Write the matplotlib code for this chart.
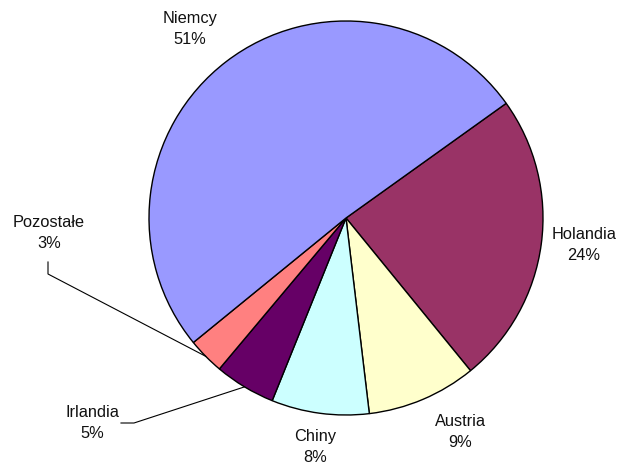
import numpy as np
import matplotlib.pyplot as plt

plt.rcParams['font.family'] = ['Liberation Sans', 'DejaVu Sans']

countries = ['Holandia', 'Austria', 'Chiny', 'Irlandia', 'Pozostałe', 'Niemcy']
shares = [24, 9, 8, 5, 3, 51]
colors = ['#993366', '#FFFFCC', '#CCFFFF', '#660066', '#FF8080', '#9999FF']

# label centres in pixel coordinates (y from top)
label_pos = {'Holandia': (584, 245), 'Austria': (460, 432), 'Chiny': (315, 447),
             'Irlandia': (92, 423), 'Pozostałe': (49, 233), 'Niemcy': (190, 29)}
W, H = 618, 466
cx, cy, r = 346, 218, 197
start = 35.6

fig = plt.figure(figsize=(W / 100, H / 100), dpi=100)
ax = fig.add_axes([0, 0, 1, 1])
wedges, _ = ax.pie(shares, colors=colors, startangle=start, counterclock=False,
                   center=(cx, H - cy), radius=r,
                   wedgeprops=dict(edgecolor='black', linewidth=1.0))
ax.set_xlim(0, W)
ax.set_ylim(0, H)
ax.set_aspect('equal')
ax.axis('off')

for name, val, w in zip(countries, shares, wedges):
    lx, ly = label_pos[name]
    ax.text(lx, H - ly, f'{name}\n{val}%', ha='center', va='center',
            fontsize=11.8, linespacing=1.45, color='#111111')

# leader lines for small slices
mid = {n: np.deg2rad((w.theta1 + w.theta2) / 2) for n, w in zip(countries, wedges)}
a = mid['Pozostałe']
ax.plot([48, 48, cx + r * np.cos(a)], [H - 262, H - 274, H - cy + r * np.sin(a)],
        color='black', lw=0.8)
a = mid['Irlandia']
ax.plot([121, 134, cx + r * np.cos(a)], [H - 423, H - 423, H - cy + r * np.sin(a)],
        color='black', lw=0.8)

fig.savefig('out.png', dpi=100)
